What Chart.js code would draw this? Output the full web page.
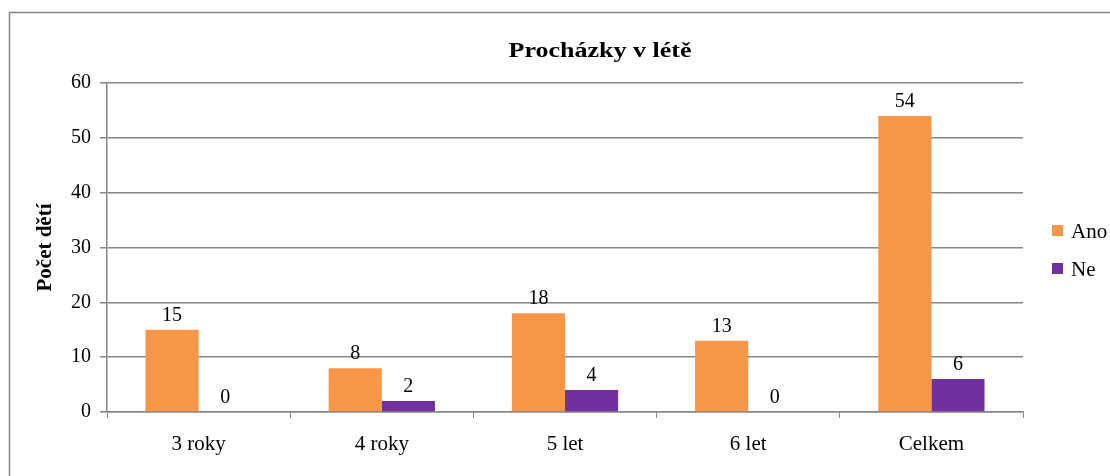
<!DOCTYPE html>
<html>
<head>
<meta charset="utf-8">
<script src="https://cdn.jsdelivr.net/npm/chart.js"></script>
<style>
  html, body { margin: 0; padding: 0; background: #fff; }
  #wrap { width: 1110px; height: 476px; }
</style>
</head>
<body>
<div id="wrap"><canvas id="walks" width="1110" height="476"></canvas></div>
<script>
    const categories = ['3 roky', '4 roky', '5 let', '6 let', 'Celkem'];
    const anoValues = [15, 8, 18, 13, 54];
    const neValues = [0, 2, 4, 0, 6];
    const seriesNames = ['Ano', 'Ne'];

    const serif = "'Liberation Serif', 'Times New Roman', serif";
    const gridGray = '#868686';

    // frame, title, legend and value labels
    const decorations = {
      id: 'decorations',
      afterDraw(chart) {
        const { ctx } = chart;
        ctx.save();
        ctx.strokeStyle = gridGray;
        ctx.lineWidth = 1.5;
        ctx.strokeRect(9.5, 12.5, 1200, 600);

        // title is a bit wider than the plain font
        ctx.save();
        ctx.fillStyle = '#000';
        ctx.font = 'bold 20px ' + serif;
        ctx.textAlign = 'center';
        ctx.textBaseline = 'alphabetic';
        ctx.translate(600, 57);
        ctx.scale(1.3, 1);
        ctx.fillText('Procházky v létě', 0, 0);
        ctx.restore();

        ctx.fillStyle = '#000';
        ctx.font = '20px ' + serif;
        ctx.textAlign = 'center';
        ctx.textBaseline = 'alphabetic';
        chart.data.datasets.forEach((ds, i) => {
          chart.getDatasetMeta(i).data.forEach((bar, j) => {
            ctx.fillText(String(ds.data[j]), bar.x, bar.y - 9);
          });
        });

        ctx.font = '21px ' + serif;
        ctx.textAlign = 'left';
        ctx.textBaseline = 'middle';
        chart.data.datasets.forEach((ds, i) => {
          const y = 231 + i * 38;
          ctx.fillStyle = ds.backgroundColor;
          ctx.fillRect(1052, y - 6, 11, 11);
          ctx.fillStyle = '#000';
          ctx.fillText(ds.label, 1071, y + 1);
        });
        ctx.restore();
      }
    };

    const ctx = document.getElementById('walks').getContext('2d');
    new Chart(ctx, {
      type: 'bar',
      data: {
        labels: categories,
        datasets: [
          { label: seriesNames[0], data: anoValues, backgroundColor: '#F79646',
            categoryPercentage: 0.58, barPercentage: 1.0 },
          { label: seriesNames[1], data: neValues, backgroundColor: '#7030A0',
            categoryPercentage: 0.58, barPercentage: 1.0 }
        ]
      },
      options: {
        responsive: false,
        animation: false,
        layout: { padding: { left: 0, right: 87, top: 83, bottom: 0 } },
        plugins: {
          legend: { display: false },
          tooltip: { enabled: false },
          title: { display: false }
        },
        scales: {
          x: {
            afterFit(scale) { scale.height = 64; },
            grid: { offset: true, drawOnChartArea: false, drawTicks: true, tickLength: 6, color: gridGray },
            border: { color: gridGray, width: 1.5 },
            ticks: { color: '#000', padding: 14, font: { family: serif, size: 21 } }
          },
          y: {
            min: 0,
            max: 60,
            afterFit(scale) { scale.width = 107; },
            ticks: { stepSize: 10, color: '#000', padding: 9, font: { family: serif, size: 20 } },
            grid: { color: gridGray, lineWidth: 1.5, tickLength: 7 },
            border: { color: gridGray, width: 1.5 },
            title: {
              display: true,
              text: 'Počet dětí',
              color: '#000',
              font: { family: serif, size: 21, weight: 'bold' },
              padding: { top: 33, bottom: 0 }
            }
          }
        }
      },
      plugins: [decorations]
    });
</script>
</body>
</html>
